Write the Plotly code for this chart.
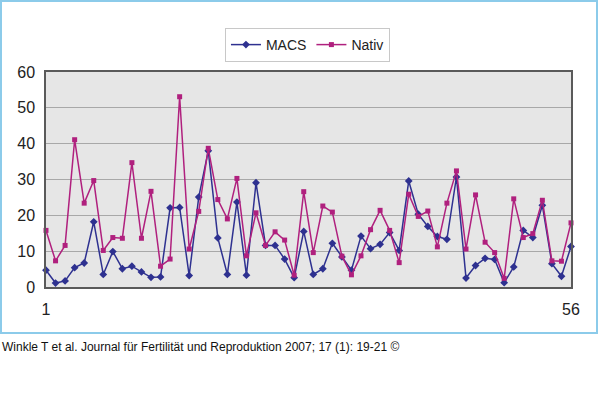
import plotly.graph_objects as go

x_idx = list(range(1, 57))
macs = [4.7, 1.1, 1.7, 5.4, 6.7, 18.2, 3.5, 9.9, 5.1, 5.8,
        4.2, 2.7, 2.8, 22.1, 22.2, 3.2, 25.1, 38.0, 13.7, 3.5,
        23.7, 3.3, 29.1, 11.6, 11.6, 7.8, 2.6, 15.5, 3.5, 5.1,
        12.2, 8.4, 4.7, 14.2, 10.7, 11.9, 15.2, 10.2, 29.6, 20.3,
        16.9, 14.1, 13.3, 30.7, 2.5, 6.0, 8.0, 7.7, 1.2, 5.6,
        15.8, 13.8, 22.8, 6.5, 3.0, 11.3]
nativ = [15.8, 7.3, 11.6, 41.1, 23.4, 29.7, 10.2, 13.8, 13.6, 34.7,
         13.6, 26.7, 5.8, 7.8, 53.1, 10.6, 21.1, 38.7, 24.4, 19.0,
         30.3, 8.7, 20.7, 11.6, 15.4, 13.1, 3.3, 26.6, 9.6, 22.6,
         20.9, 8.6, 3.4, 8.7, 16.0, 21.4, 15.8, 6.8, 25.9, 19.7,
         21.2, 11.2, 23.4, 32.4, 10.6, 25.7, 12.5, 9.6, 2.4, 24.6,
         13.8, 14.9, 24.2, 7.3, 7.2, 17.9]
y_ticks = [0, 10, 20, 30, 40, 50, 60]
x_tickvals = [1, 56]
x_ticktext = ["1", "56"]
caption = "Winkle T et al. Journal für Fertilität und Reproduktion 2007; 17 (1): 19-21 ©"

MACS_COLOR = "#2e3190"
NATIV_COLOR = "#b0207e"
FONT = "Liberation Sans, Arial, sans-serif"

fig = go.Figure()
fig.add_trace(go.Scatter(
    x=x_idx, y=macs, name="MACS", mode="lines+markers",
    line=dict(color=MACS_COLOR, width=1.5),
    marker=dict(symbol="diamond", size=6, color=MACS_COLOR),
    cliponaxis=False))
fig.add_trace(go.Scatter(
    x=x_idx, y=nativ, name="Nativ", mode="lines+markers",
    line=dict(color=NATIV_COLOR, width=1.5),
    marker=dict(symbol="square", size=5, color=NATIV_COLOR),
    cliponaxis=False))

W, H = 600, 396
L, R, T, B = 46, 29, 72, 109
pw = W - L - R
ph = H - T - B

fig.update_layout(
    width=W, height=H,
    margin=dict(l=L, r=R, t=T, b=B),
    paper_bgcolor="white",
    plot_bgcolor="#e6e6e6",
    font=dict(family=FONT, color="#222222", size=15),
    showlegend=True,
    legend=dict(
        orientation="h", x=0.498, xanchor="center",
        y=(ph + T - 28) / ph, yanchor="top",
        bordercolor="#c8c8c8", borderwidth=1, bgcolor="white",
        font=dict(size=14, family=FONT, color="#222222"),
        itemwidth=30, tracegroupgap=0),
    xaxis=dict(
        range=[1, 56], tickvals=x_tickvals, ticktext=x_ticktext,
        showgrid=False, zeroline=False, showline=True, mirror=True,
        linecolor="#5a5a5a", linewidth=1.5, ticks="", ticklen=0,
        ticklabelstandoff=7,
        tickfont=dict(size=16, family=FONT, color="#222222")),
    yaxis=dict(
        range=[0, 60], tickvals=y_ticks,
        showgrid=True, gridcolor="#a8a8a8", gridwidth=1,
        zeroline=False, showline=True, mirror=True,
        linecolor="#5a5a5a", linewidth=1.5, ticks="",
        ticklabelstandoff=6,
        tickfont=dict(size=16, family=FONT, color="#222222")),
)

# outer light-blue frame
fig.add_shape(type="rect", xref="paper", yref="paper",
              x0=-(L - 1) / pw, x1=(597 - L) / pw,
              y0=-(333 - (T + ph)) / ph, y1=(T + ph - 1) / ph,
              line=dict(color="#8ccbea", width=2), fillcolor="rgba(0,0,0,0)",
              layer="below")

fig.add_annotation(text=caption, xref="paper", yref="paper",
                   x=-L / pw, y=-(347 - (T + ph)) / ph,
                   xanchor="left", yanchor="middle", showarrow=False,
                   font=dict(size=12, family=FONT, color="#111111"))

fig.write_html("out.html",
               config={"displayModeBar": False},
               post_script="document.body.style.margin='0';document.body.style.overflow='hidden';")
